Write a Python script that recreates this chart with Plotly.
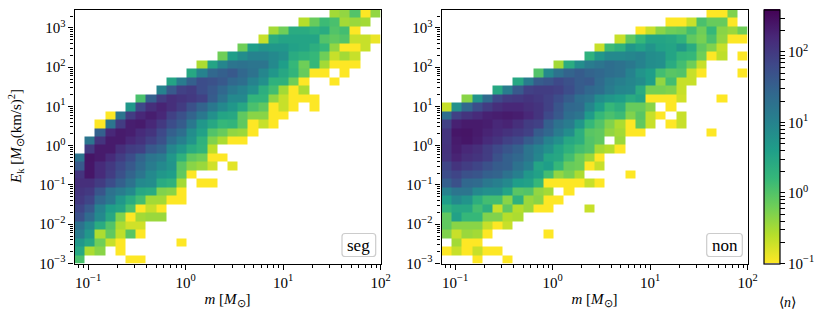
import numpy as np
import plotly.graph_objects as go

W, H = 830, 322
_ = None

# log10 of <n> per cell, top row first, rows are padded with blanks on the right
seg_log_n = [
    [_]*25 + [-.5,-.4,.0,-1,-.4],
    [_]*22 + [-.6,-.15,.15,.05,-.5,-.45,-.5],
    [_]*19 + [-.5,-.2,.4,.4,.3,.4,.0,.1,-1],
    [_]*18 + [-.7,.4,.5,.5,.5,.5,.0,-.1,.0,-.7,-.7,-.9],
    [_]*16 + [-.2,.6,.75,.7,.7,.55,.5,.35,.2,-.4,-1,-1,-.7],
    [_]*14 + [-.2,.6,.85,1.0,1.0,.9,.8,.4,.3,.2,-.2,-.7,-.5,-.7],
    [_]*12 + [-.55,.5,.95,1.2,1.25,1.2,1.2,.9,.6,.2,-.2,.2,-.5,-1,-1,-1],
    [_]*11 + [.45,1.0,1.4,1.5,1.6,1.4,1.25,.95,.7,.45,.25,-.15,-1,-1,_,-1],
    [_]*9 + [.5,1.1,1.5,1.75,1.7,1.6,1.4,1.3,1.0,.8,.3,.3,-.2,-1,_,_,-1],
    [_]*8 + [1.0,1.6,1.9,1.96,1.75,1.6,1.4,1.15,1.0,.8,.35,.1,-.5,-1,-.55],
    [_]*6 + [.05,1.5,1.96,2.12,2.05,2.0,1.9,1.55,1.25,.9,.9,.25,.25,-.4,-.7,-1,-1,-1],
    [_]*5 + [.7,1.8,2.12,2.24,2.12,1.96,1.7,1.45,1.15,.9,.7,.45,.05,-.1,-1,-.7,-1,_,-1],
    [_]*3 + [-1,1.2,1.95,2.2,2.3,2.2,1.9,1.7,1.45,1.15,.8,.5,.45,-.1,-.35,-.35,-1,-1],
    [_]*2 + [-1,1.2,1.96,2.3,2.33,2.2,2.0,1.75,1.55,1.15,.7,.45,.2,.25,-.1,-1,-.7,-1],
    [_]*2 + [1.5,2.2,2.33,2.3,2.16,2.05,1.8,1.5,1.3,.85,.55,.0,-.15,-.4,-.45,-1],
    [_,1.2,2.05,2.33,2.33,2.2,2.08,1.9,1.7,1.3,1.05,.75,.3,-.3,-.55,-1,-1],
    [_,2.0,2.33,2.33,2.12,1.96,1.9,1.6,1.45,.95,.7,.4,.25,-.65],
    [1.2,2.4,2.33,2.16,1.95,1.75,1.45,1.2,1.1,.7,.3,-.1,-.2,-1,-1],
    [1.6,2.38,2.16,2.0,1.8,1.6,1.35,1.1,.9,.75,-.05,-.35,-.45,-.75,_,-.85],
    [2.05,2.38,2.16,1.95,1.7,1.45,1.2,.9,.7,.6,-.1,-1],
    [2.12,2.12,1.96,1.75,1.5,1.25,.9,.85,.4,.3,-.5,_,-1,-1],
    [2.05,2.0,1.65,1.25,1.1,.9,.45,.4,-.3,-.35,-1],
    [2.0,1.85,1.4,1.15,.7,.4,.1,-.5,-.5,-1,-1],
    [1.85,1.6,1.0,.6,.5,.05,-1,-.7,-1],
    [1.7,1.35,.9,.45,-.3,-1,-.5,-.45,-.45],
    [1.25,.9,.4,.0,-.55,-.75,-.75],
    [1.1,.7,-.55,-.1,-.65,-.05,-1],
    [.7,.45,-.2,-.7,-1,_,_,_,_,_,-1],
    [.45,-.55,-.35,_,-1],
    [.05,_,_,_,_,-1,-1],
]

non_log_n = [
    [_]*26 + [-1,-1,-.3],
    [_]*22 + [-1,-1,-.7,.05,-.15,-.15,-1],
    [_]*19 + [-1,-.7,-.35,-.2,-.15,.1,-.2,.2,-.35,-.45,-.2],
    [_]*17 + [-.7,-.1,.2,.5,.5,.45,.3,-.1,-.25,.05,-.4,-1,-1],
    [_]*15 + [-.7,.15,.3,.7,.55,.75,.55,.5,.7,.4,-.1,-.3,-.7],
    [_]*14 + [.3,.7,.9,.9,.95,1.0,.85,.8,.5,.25,.2,-.2,-1,-.65,_,-1],
    [_]*11 + [-.5,.4,.85,1.1,1.2,1.3,1.25,1.15,1.0,.85,.8,.4,.1,-.2,-.7],
    [_]*9 + [.0,.9,1.25,1.45,1.55,1.45,1.4,1.3,1.25,1.0,.75,.6,.1,-.05,.0,-.7,-1,_,_,_,-1],
    [_]*7 + [.45,1.1,1.55,1.65,1.8,1.7,1.55,1.6,1.35,1.15,1.05,.95,.85,.6,-.4,.1,-.7,-.7],
    [_]*5 + [.45,1.1,1.6,1.9,1.95,1.95,1.9,1.75,1.55,1.4,1.3,1.1,.95,.9,.4,-.25,-.25,-.3,-.7],
    [_]*2 + [-.35,.75,1.35,1.8,1.96,2.0,2.05,2.0,1.9,1.75,1.55,1.3,1.2,.85,.7,.6,.4,.5,-1,-1,-1,-.75,_,_,_,-1],
    [-.7,.8,1.4,1.75,1.96,2.12,2.2,2.2,2.12,2.05,1.9,1.65,1.4,1.35,.95,.6,.2,.35,-.15,-.15,-.35,_,-1],
    [1.3,1.9,2.05,2.16,2.27,2.3,2.33,2.3,2.2,2.05,1.8,1.6,1.3,1.2,.65,.2,.05,.15,-.3,-.05,-.7,-1,_,-.7],
    [1.9,2.27,2.33,2.33,2.3,2.2,2.24,2.12,1.96,1.9,1.5,1.25,1.1,.7,.2,.0,-.3,-.55,-1,-.1,-.7,_,-1,-.7],
    [2.05,2.38,2.4,2.33,2.24,2.16,2.08,2.0,1.9,1.55,1.4,1.1,.85,.35,-.05,-.1,-.4,-.5,-1,-1,_,_,_,_,_,_,-1],
    [2.05,2.33,2.38,2.3,2.16,2.05,1.9,1.8,1.55,1.35,1.0,.8,.45,.35,.0,-.1,_,-.45],
    [2.08,2.3,2.2,2.12,1.96,1.8,1.65,1.5,1.2,1.0,.8,.5,.3,.1,.0,-.5,-.6,-1],
    [2.05,2.24,2.12,2.05,1.95,1.7,1.5,1.4,1.2,.95,.5,.45,.1,-.2,-.45,-1],
    [1.85,2.05,1.95,1.85,1.7,1.55,1.5,1.25,1.05,.5,.6,.2,-.15,-.2,-1,-.7],
    [1.75,1.85,1.7,1.65,1.5,1.45,1.25,1.05,.7,.55,.1,-.4,-.25,-.55,_,_,_,_,-1],
    [1.5,1.7,1.4,1.35,1.15,1.05,.9,.6,.55,.2,-1,-1,-1,-1,-.7,-1],
    [1.0,1.2,1.2,.9,.8,.8,.5,-.05,.0,-.4,-.5,_,-1],
    [.6,.9,.75,.35,.1,.1,-.35,.3,-.45,-.35,-1,-1],
    [.3,.45,.45,.1,.35,-.7,-.1,-.6,-.45,-1,-1,_,_,_,-.7],
    [-.1,.55,.2,.2,-.3,-.3,-.6,-.55],
    [-.1,-.35,-.35,-.35,-.7,-1,-.7],
    [-.3,-.7,-.45,-.5,-1,_,_,_,_,_,-1],
    [_,-.5,-1,-1],
    [-1,-.7,-1,-.7,-1,-1],
    [_,_,_,-1,_,_,-1],
]

m_ticks = [0.1, 1, 10, 100]
m_labels = ["10<sup>−1</sup>", "10<sup>0</sup>", "10<sup>1</sup>", "10<sup>2</sup>"]
e_ticks = [0.001, 0.01, 0.1, 1, 10, 100, 1000]
e_labels = ["10<sup>−3</sup>", "10<sup>−2</sup>", "10<sup>−1</sup>", "10<sup>0</sup>", "10<sup>1</sup>", "10<sup>2</sup>", "10<sup>3</sup>"]
cbar_ticks = [-1, 0, 1, 2]
cbar_labels = ["10<sup>−1</sup>", "10<sup>0</sup>", "10<sup>1</sup>", "10<sup>2</sup>"]
m_min, m_max = 0.0724, 100
e_min, e_max = 0.001, 2950
panel_names = ["seg", "non"]

# bin edges, 30 log bins each way
m_edges = np.logspace(np.log10(m_min), np.log10(m_max), 31)
e_edges = np.logspace(np.log10(e_min), np.log10(e_max), 31)

def to_grid(rows):
    return [r + [None] * (30 - len(r)) for r in rows][::-1]

def minor_between(lo, hi):
    out = []
    for d in range(int(np.floor(np.log10(lo))), int(np.ceil(np.log10(hi))) + 1):
        for k in range(2, 10):
            v = k * 10.0 ** d
            if lo <= v <= hi:
                out.append(v)
    return out

FONT = "Liberation Serif"
left_px, right_px, top_px, bottom_px = 74.5, 380.5, 9.5, 263.5
left2_px, right2_px = 441.5, 747.5

fig = go.Figure()
for i, rows in enumerate([seg_log_n, non_log_n]):
    suffix = "" if i == 0 else "2"
    fig.add_trace(go.Heatmap(x=m_edges, y=e_edges, z=to_grid(rows), coloraxis="coloraxis",
                             xaxis="x" + suffix, yaxis="y" + suffix, hoverongaps=False))

x_common = dict(type="log", range=[np.log10(m_min), np.log10(m_max)], tickmode="array",
                tickvals=m_ticks, ticktext=m_labels, ticks="outside", ticklen=5, tickwidth=1,
                tickcolor="black", showgrid=False, zeroline=False, showline=True, linecolor="black",
                linewidth=1.2, mirror=True, tickfont=dict(family=FONT, size=15, color="black"),
                minor=dict(tickmode="array", tickvals=minor_between(m_min, m_max), ticks="outside",
                           ticklen=3, tickwidth=0.8, tickcolor="black", showgrid=False),
                title=dict(text="<i>m</i> [<i>M</i><sub>⊙</sub>]", standoff=3,
                           font=dict(family=FONT, size=15, color="black")))
y_common = dict(type="log", range=[np.log10(e_min), np.log10(e_max)], tickmode="array",
                tickvals=e_ticks, ticktext=e_labels, ticks="outside", ticklen=5, tickwidth=1,
                tickcolor="black", showgrid=False, zeroline=False, showline=True, linecolor="black",
                linewidth=1.2, mirror=True, tickfont=dict(family=FONT, size=15, color="black"),
                minor=dict(tickmode="array", tickvals=minor_between(e_min, e_max), ticks="outside",
                           ticklen=3, tickwidth=0.8, tickcolor="black", showgrid=False))

y_dom = [(H - bottom_px) / H, (H - top_px) / H]
fig.update_layout(
    width=W, height=H, margin=dict(l=0, r=0, t=0, b=0, autoexpand=False), autosize=False,
    paper_bgcolor="white", plot_bgcolor="white", showlegend=False,
    font=dict(family=FONT, color="black"),
    xaxis=dict(domain=[left_px / W, right_px / W], anchor="y", **x_common),
    yaxis=dict(domain=y_dom, anchor="x", **y_common),
    xaxis2=dict(domain=[left2_px / W, right2_px / W], anchor="y2", **x_common),
    yaxis2=dict(domain=y_dom, anchor="x2", **y_common),
    coloraxis=dict(
        colorscale="Viridis_r", cmin=-1, cmax=2.6,
        colorbar=dict(
            x=764 / W, xanchor="left", xpad=0, y=y_dom[0], yanchor="bottom", ypad=0,
            len=y_dom[1] - y_dom[0], lenmode="fraction", thickness=16, thicknessmode="pixels",
            outlinecolor="black", outlinewidth=1.2, ticks="outside", ticklen=5, tickwidth=1,
            tickcolor="black", tickmode="array",
            tickvals=cbar_ticks + [float(np.log10(v)) for v in minor_between(0.1, 400)],
            ticktext=cbar_labels + [""] * len(minor_between(0.1, 400)),
            tickfont=dict(family=FONT, size=15, color="black"),
        ),
    ),
)

# rounded label boxes, lower right of each panel
boxes = [(342, 375.7), (706.7, 742.3)]
y0, y1 = 233.5, 256.5
r = 3
px = lambda v: v / W
py = lambda v: (H - v) / H
for name, (x0, x1) in zip(panel_names, boxes):
    path = (f"M {px(x0 + r)} {py(y0)} L {px(x1 - r)} {py(y0)} Q {px(x1)} {py(y0)} {px(x1)} {py(y0 + r)} "
            f"L {px(x1)} {py(y1 - r)} Q {px(x1)} {py(y1)} {px(x1 - r)} {py(y1)} "
            f"L {px(x0 + r)} {py(y1)} Q {px(x0)} {py(y1)} {px(x0)} {py(y1 - r)} "
            f"L {px(x0)} {py(y0 + r)} Q {px(x0)} {py(y0)} {px(x0 + r)} {py(y0)} Z")
    fig.add_shape(type="path", path=path, xref="paper", yref="paper", fillcolor="white",
                  line=dict(color="#cccccc", width=1.2), layer="above")
    fig.add_annotation(x=px((x0 + x1) / 2), y=py((y0 + y1) / 2), xref="paper", yref="paper",
                       xanchor="center", yanchor="middle", text=name, showarrow=False,
                       font=dict(family=FONT, size=17, color="black"))

# y title placed by hand so it sits left of the tick labels like the reference
fig.add_annotation(x=px(16), y=py(137), xref="paper", yref="paper", textangle=-90, xanchor="center",
                   yanchor="middle", text="<i>E</i><sub>k</sub> [<i>M</i><sub>⊙</sub>(km/s)<sup>2</sup>]",
                   showarrow=False, font=dict(family=FONT, size=15, color="black"))
fig.add_annotation(x=px(787), y=py(302), xref="paper", yref="paper", xanchor="center", yanchor="middle",
                   text="⟨<i>n</i>⟩", showarrow=False, font=dict(family=FONT, size=14, color="black"))

fig.write_html("out.html", config={"displayModeBar": False},
               post_script="document.body.style.margin='0';document.body.style.overflow='hidden';")
